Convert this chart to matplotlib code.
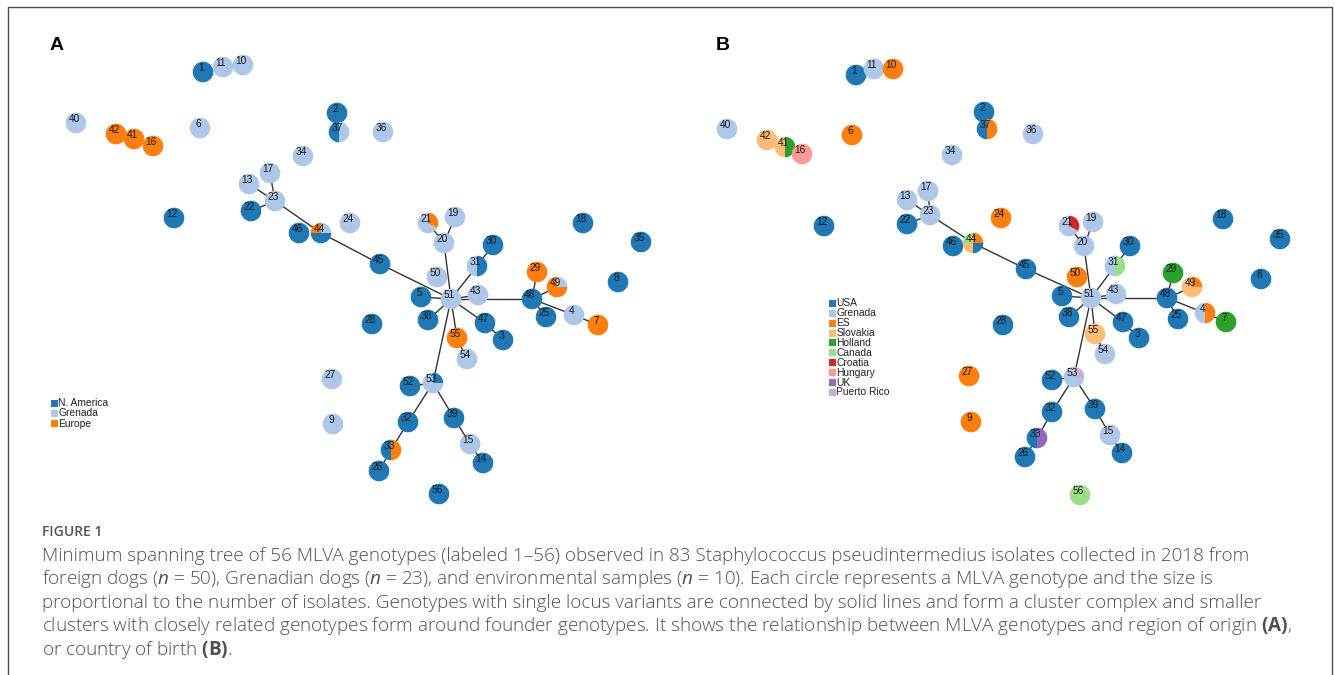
import numpy as np
import matplotlib.pyplot as plt
from matplotlib.patches import Wedge, Rectangle

plt.rcParams['font.family'] = ['Liberation Sans', 'DejaVu Sans']
plt.rcParams['mathtext.fontset'] = 'custom'
plt.rcParams['mathtext.rm'] = 'Open Sans'
plt.rcParams['mathtext.it'] = 'Open Sans:italic'
plt.rcParams['mathtext.bf'] = 'Open Sans:bold'

# ---- panel A: region of origin
a_ids = [1, 11, 10, 40, 42, 41, 16, 6, 2, 37, 36, 34, 17, 13, 23, 22, 12, 46, 44, 24,
         21, 19, 20, 30, 31, 45, 50, 5, 51, 43, 38, 47, 3, 55, 54, 28, 48, 29, 49, 25,
         4, 7, 18, 35, 8, 27, 9, 52, 53, 32, 39, 33, 15, 26, 14, 56]
a_x = [203, 223, 243, 76, 116, 134, 153, 200, 337, 339, 383, 303, 270, 249, 275, 251, 174, 299, 321, 350,
       428, 455, 444, 493, 477, 380, 437, 421, 451, 478, 428, 485, 503, 457, 467, 372, 532, 537, 557, 546,
       574, 598, 583, 641, 618, 332, 333, 410, 433, 408, 454, 391, 470, 379, 483, 439]
a_y = [72, 67, 65, 123, 134, 139, 146, 128, 113, 132, 132, 156, 173, 184, 201, 211, 218, 233, 233, 223,
       223, 217, 243, 245, 266, 264, 277, 297, 299, 295, 320, 323, 340, 338, 359, 324, 299, 272, 287, 317,
       315, 325, 223, 242, 282, 379, 424, 386, 383, 422, 418, 450, 444, 471, 463, 494]
# isolates per genotype, listed clockwise from 12 o'clock
a_groups = ['NA', 'GR', 'GR', 'GR', 'EU', 'EU', 'EU', 'GR', 'NA', 'GR/NA', 'GR', 'GR', 'GR', 'GR', 'GR', 'NA', 'NA', 'NA', 'GR/NA/NA/EU', 'GR',
            'EU/GR/GR', 'GR', 'GR', 'NA', 'NA/GR', 'NA', 'GR', 'NA', 'GR', 'GR', 'NA', 'NA', 'NA', 'EU', 'GR', 'NA', 'NA', 'EU', 'GR/EU/EU/EU', 'NA',
            'GR', 'EU', 'NA', 'NA', 'NA', 'GR', 'GR', 'NA', 'NA/GR/GR/GR', 'NA', 'NA', 'EU/NA', 'GR', 'NA', 'NA', 'NA']
a_legend = ['N. America', 'Grenada', 'Europe']
a_codes = ['NA', 'GR', 'EU']

# ---- panel B: country of birth
b_ids = a_ids
b_x = [856, 874, 893, 727, 767, 785, 802, 852, 984, 987, 1033, 952, 928, 907, 930, 907, 824, 953, 973, 1001,
       1069, 1093, 1084, 1130, 1115, 1026, 1077, 1062, 1091, 1116, 1069, 1123, 1139, 1095, 1105, 1003, 1167, 1173, 1192, 1178,
       1205, 1226, 1223, 1280, 1261, 969, 971, 1052, 1074, 1052, 1095, 1037, 1110, 1025, 1122, 1080]
b_y = [75, 69, 69, 129, 140, 147, 154, 135, 112, 129, 134, 155, 191, 200, 215, 224, 226, 246, 243, 218,
       226, 222, 246, 246, 266, 269, 277, 296, 298, 294, 317, 322, 338, 334, 354, 325, 298, 273, 287, 319,
       313, 322, 219, 239, 279, 376, 422, 380, 377, 412, 409, 438, 435, 457, 453, 495]
b_groups = ['US', 'GR', 'ES', 'GR', 'SK', 'HO/SK', 'HU', 'ES', 'US', 'ES/US', 'GR', 'GR', 'GR', 'GR', 'GR', 'US', 'US', 'US', 'ES/US/SK/CA', 'ES',
            'CR/GR/GR', 'GR', 'GR', 'US', 'CA/GR', 'US', 'ES', 'US', 'GR', 'GR', 'US', 'US', 'US', 'SK', 'GR', 'US', 'US', 'HO', 'ES/SK/SK/SK', 'US',
            'ES/GR', 'HO', 'US', 'US', 'US', 'ES', 'ES', 'US', 'PR/GR/GR/GR', 'US', 'US', 'UK/US', 'GR', 'US', 'US', 'CA']
b_legend = ['USA', 'Grenada', 'ES', 'Slovakia', 'Holland', 'Canada', 'Croatia', 'Hungary', 'UK', 'Puerto Rico']
b_codes = ['US', 'GR', 'ES', 'SK', 'HO', 'CA', 'CR', 'HU', 'UK', 'PR']

# single locus variant links (same tree in both panels)
edges = [(13, 23), (17, 23), (22, 23), (23, 44), (44, 45), (45, 51), (20, 51), (21, 20), (19, 20),
         (31, 51), (30, 31), (5, 51), (38, 51), (43, 51), (47, 51), (47, 3), (55, 51), (55, 54),
         (51, 48), (48, 29), (48, 49), (48, 25), (48, 4), (4, 7), (51, 53), (53, 52), (53, 32),
         (53, 39), (32, 33), (33, 26), (39, 15), (15, 14)]

tab20 = ['#1f77b4', '#aec7e8', '#ff7f0e', '#ffbb78', '#2ca02c', '#98df8a', '#d62728', '#ff9896', '#9467bd', '#c5b0d5']

caption = [
    'Minimum spanning tree of 56 MLVA genotypes (labeled 1\u201356) observed in 83 Staphylococcus pseudintermedius isolates collected in 2018 from',
    r'foreign dogs ($\mathit{n}$ = 50), Grenadian dogs ($\mathit{n}$ = 23), and environmental samples ($\mathit{n}$ = 10). Each circle represents a MLVA genotype and the size is',
    'proportional to the number of isolates. Genotypes with single locus variants are connected by solid lines and form a cluster complex and smaller',
    r'clusters with closely related genotypes form around founder genotypes. It shows the relationship between MLVA genotypes and region of origin $\mathbf{(A)}$,',
    r'or country of birth $\mathbf{(B)}$.',
]


def draw_tree(ax, ids, xs, ys, groups, codes):
    pos = {i: (x, y) for i, x, y in zip(ids, xs, ys)}
    for a, b in edges:
        ax.plot([pos[a][0], pos[b][0]], [pos[a][1], pos[b][1]], color='#333333', lw=1.0, zorder=1)
    r = 10.3
    for k, (i, x, y, g) in enumerate(zip(ids, xs, ys, groups)):
        parts = g.split('/')
        # y axis is flipped, so -90 is 12 o'clock and angles run clockwise
        start = -90
        step = 360 / len(parts)
        for p in parts:
            ax.add_patch(Wedge((x, y), r, start, start + step, facecolor=tab20[codes.index(p)],
                               edgecolor='none', zorder=2 + k * 0.01))
            start += step
        ax.text(x - 2, y - 4, str(i), fontsize=7.3, color='#1a1a1a', ha='center', va='center', zorder=5)


def draw_legend(ax, x0, y0, dy, names):
    for k, name in enumerate(names):
        y = y0 + k * dy
        ax.add_patch(Rectangle((x0, y - 3.5), 7, 7, facecolor=tab20[k], edgecolor='none', zorder=3))
        ax.text(x0 + 7.5, y, name, fontsize=7.4, color='#222222', ha='left', va='center', zorder=3)


def main():
    fig = plt.figure(figsize=(13.35, 6.75), dpi=100)
    ax = fig.add_axes([0, 0, 1, 1])
    ax.set_xlim(0, 1335)
    ax.set_ylim(675, 0)
    ax.axis('off')

    # frame
    ax.plot([8, 8, 1332, 1332], [675, 7, 7, 675], color='#4d4d4d', lw=1.0, zorder=0)

    draw_tree(ax, a_ids, a_x, a_y, a_groups, a_codes)
    draw_tree(ax, b_ids, b_x, b_y, b_groups, b_codes)
    draw_legend(ax, 51, 403, 10.3, a_legend)
    draw_legend(ax, 829, 303.3, 9.9, b_legend)

    ax.text(50, 45, 'A', fontsize=14, fontweight='bold', ha='left', va='center')
    ax.text(716, 45, 'B', fontsize=14, fontweight='bold', ha='left', va='center')

    ax.text(42, 532, 'FIGURE 1', fontsize=10, family='Open Sans', fontweight='semibold',
            color='#555555', ha='left', va='center')
    for k, line in enumerate(caption):
        ax.text(42, 556 + k * 23.4, line, fontsize=13.6, family='Open Sans', fontweight='light',
                color='#505050', ha='left', va='center')

    fig.savefig('out.png', dpi=100)


if __name__ == '__main__':
    main()
